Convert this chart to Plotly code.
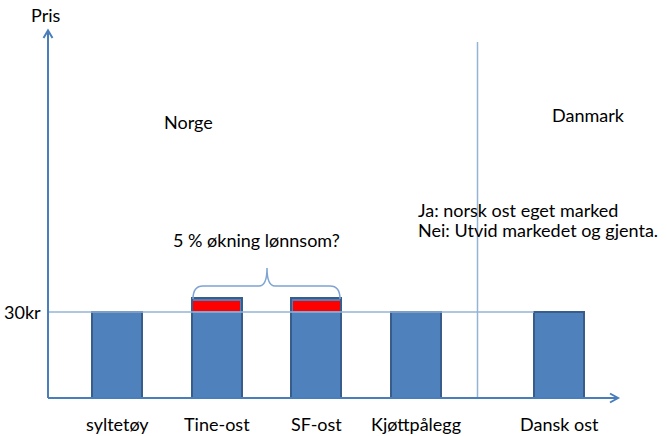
import plotly.graph_objects as go

# ---- data ----
categories = ["syltetøy", "Tine-ost", "SF-ost", "Kjøttpålegg", "Dansk ost"]
base_price = [30, 30, 30, 30, 30]
increase = [0, 5, 5, 0, 0]
y_tick_vals = [30]
y_tick_text = ["30kr"]

# ---- layout helpers (pixel -> data) ----
W, H = 667, 436
X0, XS = 117.0, 99.5          # px of first category centre, px per category step
Y0, YS = 398.0, 86.0 / 30.0   # px of price 0, px per kr
def X(px): return (px - X0) / XS
def Y(py): return (Y0 - py) / YS

positions = [0, 1, 2, 3, X(559)]
bar_w = 50 / XS

FONT = "Lato"
FS = 18
AX_COL = "#4A7EBB"
LIGHT = "#95B3D7"

fig = go.Figure()
tops = [b + i for b, i in zip(base_price, increase)]
fig.add_trace(go.Bar(x=positions, y=tops, width=bar_w,
                     marker=dict(color="#4F81BD", line=dict(color="#385D8A", width=2)),
                     hoverinfo="skip"))
red_x = [p for p, i in zip(positions, increase) if i > 0]
red_b = [b + 0.3 for b, i in zip(base_price, increase) if i > 0]
red_h = [i - 1.3 for i in increase if i > 0]
fig.add_trace(go.Bar(x=red_x, y=red_h, base=red_b, width=47 / XS,
                     marker=dict(color="#FF0000", line=dict(width=0)),
                     hoverinfo="skip"))

shapes = []
# 30kr reference line (drawn above bars), from y-axis to Dansk ost bar
shapes.append(dict(type="line", xref="x", yref="y", x0=X(48), x1=positions[4] - bar_w / 2,
                   y0=y_tick_vals[0], y1=y_tick_vals[0], line=dict(color=LIGHT, width=1.5),
                   layer="above"))
# divider Norge / Danmark
shapes.append(dict(type="line", xref="x", yref="y", x0=X(477.5), x1=X(477.5),
                   y0=Y(42), y1=0, line=dict(color=LIGHT, width=1.5), layer="below"))
# axes
shapes.append(dict(type="line", xref="x", yref="y", x0=X(48), x1=X(48), y0=0, y1=Y(31),
                   line=dict(color=AX_COL, width=2), layer="above"))
shapes.append(dict(type="line", xref="x", yref="y", x0=X(48), x1=X(617), y0=0, y1=0,
                   line=dict(color=AX_COL, width=2), layer="above"))
# arrow heads (open V)
shapes.append(dict(type="path", xref="x", yref="y",
                   path=f"M {X(43.5)},{Y(38)} L {X(48)},{Y(30.5)} L {X(52.5)},{Y(38)}",
                   line=dict(color=AX_COL, width=2), layer="above"))
shapes.append(dict(type="path", xref="x", yref="y",
                   path=f"M {X(610)},{Y(393.5)} L {X(618)},{Y(398)} L {X(610)},{Y(402.5)}",
                   line=dict(color=AX_COL, width=2), layer="above"))
# curly brace over Tine-ost and SF-ost
xl, xr, xm = X(193), X(340), X(267)
yb, yh, ya = Y(299), Y(286), Y(268)
brace = (f"M {xl},{yb} Q {xl},{yh} {X(203)},{yh} L {X(259)},{yh} "
         f"Q {xm},{yh} {xm},{ya} Q {xm},{yh} {X(275)},{yh} L {X(330)},{yh} "
         f"Q {xr},{yh} {xr},{yb}")
shapes.append(dict(type="path", xref="x", yref="y", path=brace,
                   line=dict(color="#7FA3D3", width=1.5), layer="above"))

ann = []
def txt(px, py, s, xanchor="center"):
    ann.append(dict(x=X(px), y=Y(py), xref="x", yref="y", text=s, showarrow=False,
                    xanchor=xanchor, yanchor="middle",
                    font=dict(family=FONT, size=FS, color="#000000")))

for p, c in zip(positions, categories):
    ann.append(dict(x=p, y=Y(424), xref="x", yref="y", text=c, showarrow=False,
                    xanchor="center", yanchor="middle",
                    font=dict(family=FONT, size=FS, color="#000000")))
for v, t in zip(y_tick_vals, y_tick_text):
    ann.append(dict(x=X(43), y=v, xref="x", yref="y", text=t, showarrow=False,
                    xanchor="right", yanchor="middle",
                    font=dict(family=FONT, size=FS, color="#000000")))
txt(46, 15, "Pris")
txt(188, 122, "Norge")
txt(588, 115, "Danmark")
txt(256, 240, "5 % økning lønnsom?")
txt(416, 210, "Ja: norsk ost eget marked", "left")
txt(416, 230, "Nei: Utvid markedet og gjenta.", "left")

fig.update_layout(
    width=W, height=H, margin=dict(l=0, r=0, t=0, b=0),
    paper_bgcolor="white", plot_bgcolor="white",
    barmode="overlay", showlegend=False, bargap=0,
    shapes=shapes, annotations=ann,
    xaxis=dict(range=[X(0), X(W)], visible=False, fixedrange=True),
    yaxis=dict(range=[Y(H), Y(0)], visible=False, fixedrange=True),
)
fig.write_html("out.html", config={"displayModeBar": False},
               post_script="document.body.style.margin='0';document.body.style.overflow='hidden';")
